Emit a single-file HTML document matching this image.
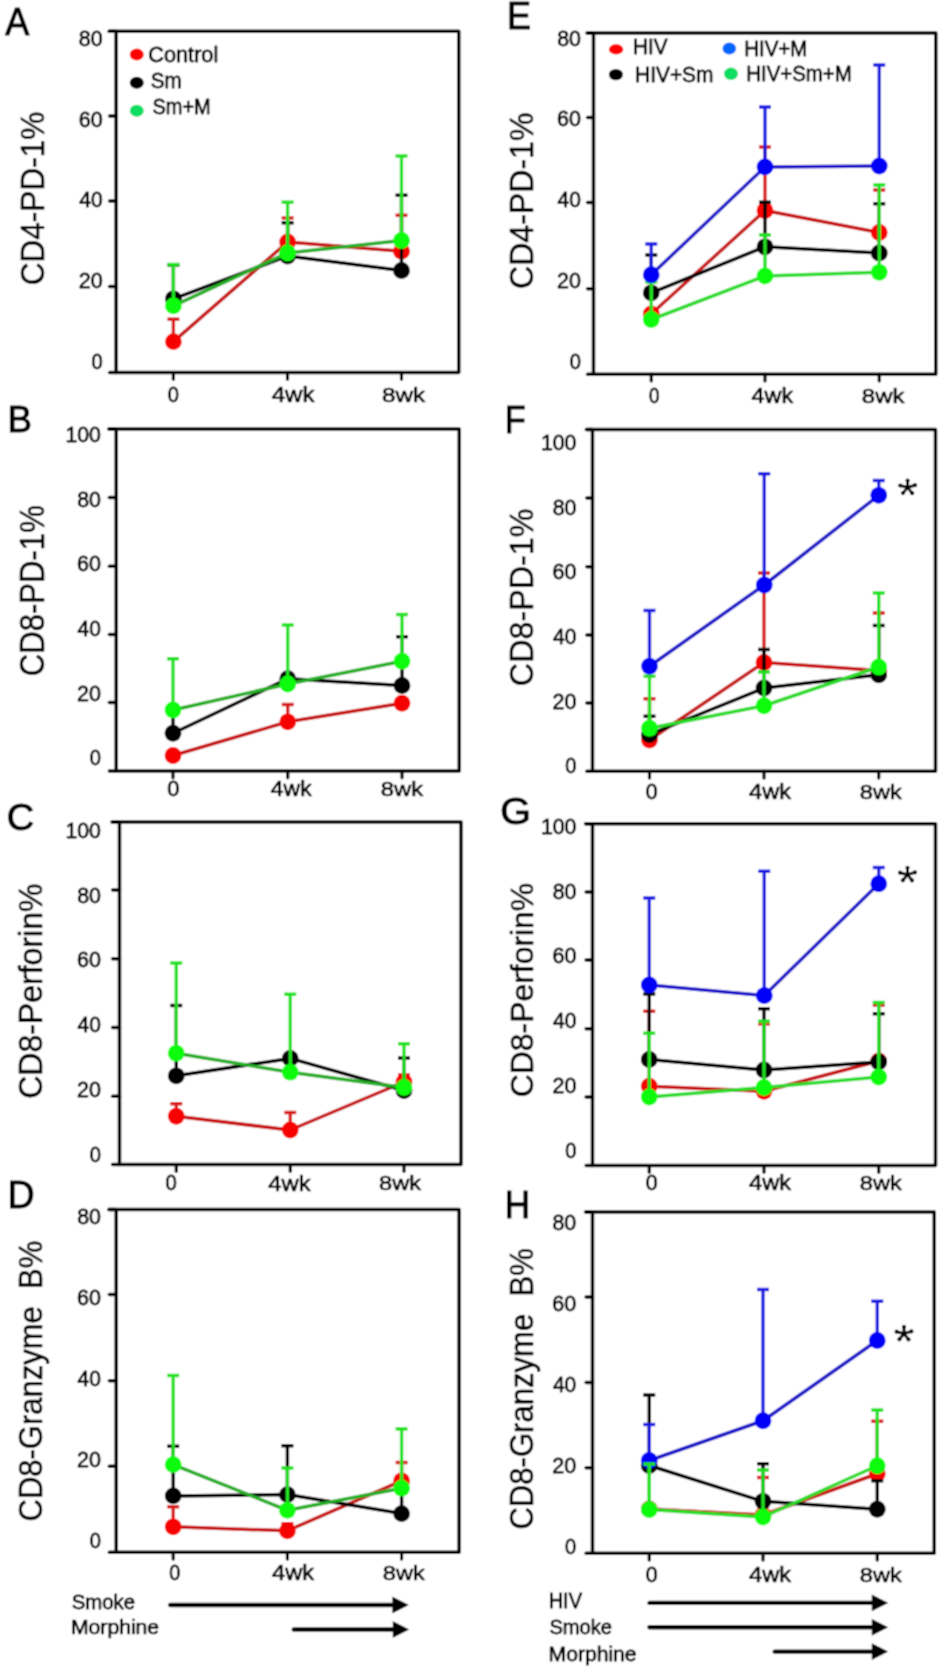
<!DOCTYPE html>
<html><head><meta charset="utf-8"><style>
html,body{margin:0;padding:0;background:#fff;overflow:hidden;}
svg{display:block;}
text{font-family:"Liberation Sans",sans-serif;}
</style></head><body>
<svg width="944" height="1668" viewBox="0 0 944 1668">
<defs><filter id="soft" x="0" y="0" width="944" height="1668" filterUnits="userSpaceOnUse"><feConvolveMatrix order="3" kernelMatrix="1 2 1 2 4 2 1 2 1" divisor="16" edgeMode="duplicate"/></filter></defs>
<g filter="url(#soft)">
<rect width="944" height="1668" fill="#fff"/>
<path d="M109.00,31.2 H458.8 V372.4 H116.1 V31.2" fill="none" stroke="#000" stroke-width="3.5" stroke-linejoin="round" stroke-linecap="round"/>
<line x1="109.6" y1="31.2" x2="116.1" y2="31.2" stroke="#000" stroke-width="3.5" stroke-linecap="round"/>
<line x1="109.6" y1="116" x2="116.1" y2="116" stroke="#000" stroke-width="3.5" stroke-linecap="round"/>
<line x1="109.6" y1="201" x2="116.1" y2="201" stroke="#000" stroke-width="3.5" stroke-linecap="round"/>
<line x1="109.6" y1="286.5" x2="116.1" y2="286.5" stroke="#000" stroke-width="3.5" stroke-linecap="round"/>
<line x1="109.6" y1="372.4" x2="116.1" y2="372.4" stroke="#000" stroke-width="3.5" stroke-linecap="round"/>
<line x1="173.4" y1="372.4" x2="173.4" y2="379.2" stroke="#000" stroke-width="3.2" stroke-linecap="round"/>
<line x1="287.5" y1="372.4" x2="287.5" y2="379.2" stroke="#000" stroke-width="3.2" stroke-linecap="round"/>
<line x1="401.5" y1="372.4" x2="401.5" y2="379.2" stroke="#000" stroke-width="3.2" stroke-linecap="round"/>
<text transform="translate(78.87,45.59) scale(1.0084,1)" font-size="21.19" fill="#000" stroke="#000" stroke-width="0.79" stroke-linejoin="round">80</text>
<text transform="translate(78.71,126.52) scale(1.0156,1)" font-size="21.19" fill="#000" stroke="#000" stroke-width="0.79" stroke-linejoin="round">60</text>
<text transform="translate(79.32,207.44) scale(0.9887,1)" font-size="21.19" fill="#000" stroke="#000" stroke-width="0.80" stroke-linejoin="round">40</text>
<text transform="translate(78.72,288.37) scale(1.0151,1)" font-size="21.19" fill="#000" stroke="#000" stroke-width="0.79" stroke-linejoin="round">20</text>
<text transform="translate(91.42,369.29) scale(0.9479,1)" font-size="21.19" fill="#000" stroke="#000" stroke-width="0.80" stroke-linejoin="round">0</text>
<text transform="translate(167.72,402.04) scale(0.9233,1)" font-size="21.75" fill="#000" stroke="#000" stroke-width="0.80" stroke-linejoin="round">0</text>
<text transform="translate(271.65,402.25) scale(1.1329,1)" font-size="21.25" fill="#000" stroke="#000" stroke-width="0.71" stroke-linejoin="round">4wk</text>
<text transform="translate(381.94,402.05) scale(1.1590,1)" font-size="20.97" fill="#000" stroke="#000" stroke-width="0.69" stroke-linejoin="round">8wk</text>
<line x1="173.4" y1="341.6" x2="173.4" y2="319.2" stroke="#d81a1a" stroke-width="3.4"/>
<line x1="167.4" y1="319.2" x2="179.4" y2="319.2" stroke="#d81a1a" stroke-width="3.5"/>
<line x1="287.6" y1="242" x2="287.6" y2="218" stroke="#d81a1a" stroke-width="3.4"/>
<line x1="281.6" y1="218" x2="293.6" y2="218" stroke="#d81a1a" stroke-width="3.5"/>
<line x1="401.5" y1="251.2" x2="401.5" y2="215.3" stroke="#d81a1a" stroke-width="3.4"/>
<line x1="395.5" y1="215.3" x2="407.5" y2="215.3" stroke="#d81a1a" stroke-width="3.5"/>
<path d="M173.4,341.6 L287.6,242 L401.5,251.2" fill="none" stroke="#c81414" stroke-width="3.5" stroke-linejoin="round"/>
<circle cx="173.4" cy="341.6" r="8.4" fill="#f60400"/>
<circle cx="287.6" cy="242" r="8.4" fill="#f60400"/>
<circle cx="401.5" cy="251.2" r="8.4" fill="#f60400"/>
<line x1="173.4" y1="298.8" x2="173.4" y2="265" stroke="#000000" stroke-width="3.4"/>
<line x1="167.4" y1="265" x2="179.4" y2="265" stroke="#000000" stroke-width="3.5"/>
<line x1="287.6" y1="256" x2="287.6" y2="222.8" stroke="#000000" stroke-width="3.4"/>
<line x1="281.6" y1="222.8" x2="293.6" y2="222.8" stroke="#000000" stroke-width="3.5"/>
<line x1="401.5" y1="270.5" x2="401.5" y2="195.2" stroke="#000000" stroke-width="3.4"/>
<line x1="395.5" y1="195.2" x2="407.5" y2="195.2" stroke="#000000" stroke-width="3.5"/>
<path d="M173.4,298.8 L287.6,256 L401.5,270.5" fill="none" stroke="#000000" stroke-width="3.5" stroke-linejoin="round"/>
<circle cx="173.4" cy="298.8" r="8.4" fill="#000000"/>
<circle cx="287.6" cy="256" r="8.4" fill="#000000"/>
<circle cx="401.5" cy="270.5" r="8.4" fill="#000000"/>
<line x1="173.4" y1="305.8" x2="173.4" y2="264.5" stroke="#22e022" stroke-width="3.4"/>
<line x1="167.4" y1="264.5" x2="179.4" y2="264.5" stroke="#22e022" stroke-width="3.5"/>
<line x1="287.6" y1="253" x2="287.6" y2="202.2" stroke="#22e022" stroke-width="3.4"/>
<line x1="281.6" y1="202.2" x2="293.6" y2="202.2" stroke="#22e022" stroke-width="3.5"/>
<line x1="401.5" y1="240.5" x2="401.5" y2="156" stroke="#22e022" stroke-width="3.4"/>
<line x1="395.5" y1="156" x2="407.5" y2="156" stroke="#22e022" stroke-width="3.5"/>
<path d="M173.4,305.8 L287.6,253 L401.5,240.5" fill="none" stroke="#26ae26" stroke-width="3.5" stroke-linejoin="round"/>
<circle cx="173.4" cy="305.8" r="8.4" fill="#08fc08"/>
<circle cx="287.6" cy="253" r="8.4" fill="#08fc08"/>
<circle cx="401.5" cy="240.5" r="8.4" fill="#08fc08"/>
<path d="M108.75,429 H459.25 V771 H116.2 V429" fill="none" stroke="#000" stroke-width="3.5" stroke-linejoin="round" stroke-linecap="round"/>
<line x1="109.35" y1="429" x2="116.2" y2="429" stroke="#000" stroke-width="3.5" stroke-linecap="round"/>
<line x1="109.35" y1="497.5" x2="116.2" y2="497.5" stroke="#000" stroke-width="3.5" stroke-linecap="round"/>
<line x1="109.35" y1="566.25" x2="116.2" y2="566.25" stroke="#000" stroke-width="3.5" stroke-linecap="round"/>
<line x1="109.35" y1="634.5" x2="116.2" y2="634.5" stroke="#000" stroke-width="3.5" stroke-linecap="round"/>
<line x1="109.35" y1="702.5" x2="116.2" y2="702.5" stroke="#000" stroke-width="3.5" stroke-linecap="round"/>
<line x1="109.35" y1="771" x2="116.2" y2="771" stroke="#000" stroke-width="3.5" stroke-linecap="round"/>
<line x1="173" y1="771" x2="173" y2="777.8" stroke="#000" stroke-width="3.2" stroke-linecap="round"/>
<line x1="287.75" y1="771" x2="287.75" y2="777.8" stroke="#000" stroke-width="3.2" stroke-linecap="round"/>
<line x1="402" y1="771" x2="402" y2="777.8" stroke="#000" stroke-width="3.2" stroke-linecap="round"/>
<text transform="translate(65.48,441.79) scale(1.0028,1)" font-size="21.19" fill="#000" stroke="#000" stroke-width="0.80" stroke-linejoin="round">100</text>
<text transform="translate(77.17,506.51) scale(1.0084,1)" font-size="21.19" fill="#000" stroke="#000" stroke-width="0.79" stroke-linejoin="round">80</text>
<text transform="translate(77.01,571.23) scale(1.0156,1)" font-size="21.19" fill="#000" stroke="#000" stroke-width="0.79" stroke-linejoin="round">60</text>
<text transform="translate(77.62,635.95) scale(0.9887,1)" font-size="21.19" fill="#000" stroke="#000" stroke-width="0.80" stroke-linejoin="round">40</text>
<text transform="translate(77.02,700.67) scale(1.0151,1)" font-size="21.19" fill="#000" stroke="#000" stroke-width="0.79" stroke-linejoin="round">20</text>
<text transform="translate(89.72,765.39) scale(0.9479,1)" font-size="21.19" fill="#000" stroke="#000" stroke-width="0.80" stroke-linejoin="round">0</text>
<text transform="translate(167.35,795.79) scale(1.0050,1)" font-size="21.75" fill="#000" stroke="#000" stroke-width="0.80" stroke-linejoin="round">0</text>
<text transform="translate(270.87,796.00) scale(1.0793,1)" font-size="21.25" fill="#000" stroke="#000" stroke-width="0.74" stroke-linejoin="round">4wk</text>
<text transform="translate(380.87,795.80) scale(1.1343,1)" font-size="20.97" fill="#000" stroke="#000" stroke-width="0.71" stroke-linejoin="round">8wk</text>
<line x1="287.75" y1="721.8" x2="287.75" y2="704.5" stroke="#d81a1a" stroke-width="3.4"/>
<line x1="281.75" y1="704.5" x2="293.75" y2="704.5" stroke="#d81a1a" stroke-width="3.5"/>
<path d="M173,755.5 L287.75,721.8 L402,703.25" fill="none" stroke="#c81414" stroke-width="3.5" stroke-linejoin="round"/>
<circle cx="173" cy="755.5" r="8.4" fill="#f60400"/>
<circle cx="287.75" cy="721.8" r="8.4" fill="#f60400"/>
<circle cx="402" cy="703.25" r="8.4" fill="#f60400"/>
<line x1="173" y1="733.25" x2="173" y2="712" stroke="#000000" stroke-width="3.4"/>
<line x1="167" y1="712" x2="179" y2="712" stroke="#000000" stroke-width="3.5"/>
<line x1="402" y1="685.5" x2="402" y2="636.75" stroke="#000000" stroke-width="3.4"/>
<line x1="396" y1="636.75" x2="408" y2="636.75" stroke="#000000" stroke-width="3.5"/>
<path d="M173,733.25 L287.75,678.75 L402,685.5" fill="none" stroke="#000000" stroke-width="3.5" stroke-linejoin="round"/>
<circle cx="173" cy="733.25" r="8.4" fill="#000000"/>
<circle cx="287.75" cy="678.75" r="8.4" fill="#000000"/>
<circle cx="402" cy="685.5" r="8.4" fill="#000000"/>
<line x1="173" y1="710" x2="173" y2="658.75" stroke="#22e022" stroke-width="3.4"/>
<line x1="167" y1="658.75" x2="179" y2="658.75" stroke="#22e022" stroke-width="3.5"/>
<line x1="287.75" y1="684" x2="287.75" y2="625" stroke="#22e022" stroke-width="3.4"/>
<line x1="281.75" y1="625" x2="293.75" y2="625" stroke="#22e022" stroke-width="3.5"/>
<line x1="402" y1="661.25" x2="402" y2="614.5" stroke="#22e022" stroke-width="3.4"/>
<line x1="396" y1="614.5" x2="408" y2="614.5" stroke="#22e022" stroke-width="3.5"/>
<path d="M173,710 L287.75,684 L402,661.25" fill="none" stroke="#26ae26" stroke-width="3.5" stroke-linejoin="round"/>
<circle cx="173" cy="710" r="8.4" fill="#08fc08"/>
<circle cx="287.75" cy="684" r="8.4" fill="#08fc08"/>
<circle cx="402" cy="661.25" r="8.4" fill="#08fc08"/>
<path d="M112.00,822 H461 V1164.5 H119.5 V822" fill="none" stroke="#000" stroke-width="3.5" stroke-linejoin="round" stroke-linecap="round"/>
<line x1="112.6" y1="822" x2="119.5" y2="822" stroke="#000" stroke-width="3.5" stroke-linecap="round"/>
<line x1="112.6" y1="890" x2="119.5" y2="890" stroke="#000" stroke-width="3.5" stroke-linecap="round"/>
<line x1="112.6" y1="958.75" x2="119.5" y2="958.75" stroke="#000" stroke-width="3.5" stroke-linecap="round"/>
<line x1="112.6" y1="1027.5" x2="119.5" y2="1027.5" stroke="#000" stroke-width="3.5" stroke-linecap="round"/>
<line x1="112.6" y1="1096.25" x2="119.5" y2="1096.25" stroke="#000" stroke-width="3.5" stroke-linecap="round"/>
<line x1="112.6" y1="1164.5" x2="119.5" y2="1164.5" stroke="#000" stroke-width="3.5" stroke-linecap="round"/>
<line x1="176.25" y1="1164.5" x2="176.25" y2="1171.3" stroke="#000" stroke-width="3.2" stroke-linecap="round"/>
<line x1="290.25" y1="1164.5" x2="290.25" y2="1171.3" stroke="#000" stroke-width="3.2" stroke-linecap="round"/>
<line x1="404" y1="1164.5" x2="404" y2="1171.3" stroke="#000" stroke-width="3.2" stroke-linecap="round"/>
<text transform="translate(65.48,838.09) scale(1.0028,1)" font-size="21.19" fill="#000" stroke="#000" stroke-width="0.80" stroke-linejoin="round">100</text>
<text transform="translate(77.17,902.79) scale(1.0084,1)" font-size="21.19" fill="#000" stroke="#000" stroke-width="0.79" stroke-linejoin="round">80</text>
<text transform="translate(77.01,967.49) scale(1.0156,1)" font-size="21.19" fill="#000" stroke="#000" stroke-width="0.79" stroke-linejoin="round">60</text>
<text transform="translate(77.62,1032.19) scale(0.9887,1)" font-size="21.19" fill="#000" stroke="#000" stroke-width="0.80" stroke-linejoin="round">40</text>
<text transform="translate(77.02,1096.89) scale(1.0151,1)" font-size="21.19" fill="#000" stroke="#000" stroke-width="0.79" stroke-linejoin="round">20</text>
<text transform="translate(89.72,1161.59) scale(0.9479,1)" font-size="21.19" fill="#000" stroke="#000" stroke-width="0.80" stroke-linejoin="round">0</text>
<text transform="translate(165.41,1190.29) scale(0.9329,1)" font-size="21.75" fill="#000" stroke="#000" stroke-width="0.80" stroke-linejoin="round">0</text>
<text transform="translate(268.35,1190.50) scale(1.1195,1)" font-size="21.25" fill="#000" stroke="#000" stroke-width="0.71" stroke-linejoin="round">4wk</text>
<text transform="translate(379.12,1190.30) scale(1.1274,1)" font-size="20.97" fill="#000" stroke="#000" stroke-width="0.71" stroke-linejoin="round">8wk</text>
<line x1="176.25" y1="1116.25" x2="176.25" y2="1103.75" stroke="#d81a1a" stroke-width="3.4"/>
<line x1="170.25" y1="1103.75" x2="182.25" y2="1103.75" stroke="#d81a1a" stroke-width="3.5"/>
<line x1="290.25" y1="1130" x2="290.25" y2="1112.5" stroke="#d81a1a" stroke-width="3.4"/>
<line x1="284.25" y1="1112.5" x2="296.25" y2="1112.5" stroke="#d81a1a" stroke-width="3.5"/>
<line x1="404" y1="1082" x2="404" y2="1075" stroke="#d81a1a" stroke-width="3.4"/>
<line x1="398" y1="1075" x2="410" y2="1075" stroke="#d81a1a" stroke-width="3.5"/>
<path d="M176.25,1116.25 L290.25,1130 L404,1082" fill="none" stroke="#c81414" stroke-width="3.5" stroke-linejoin="round"/>
<circle cx="176.25" cy="1116.25" r="8.4" fill="#f60400"/>
<circle cx="290.25" cy="1130" r="8.4" fill="#f60400"/>
<circle cx="404" cy="1082" r="8.4" fill="#f60400"/>
<line x1="176.25" y1="1075.8" x2="176.25" y2="1005.5" stroke="#000000" stroke-width="3.4"/>
<line x1="170.25" y1="1005.5" x2="182.25" y2="1005.5" stroke="#000000" stroke-width="3.5"/>
<line x1="404" y1="1090.5" x2="404" y2="1058" stroke="#000000" stroke-width="3.4"/>
<line x1="398" y1="1058" x2="410" y2="1058" stroke="#000000" stroke-width="3.5"/>
<path d="M176.25,1075.8 L290.25,1058.4 L404,1090.5" fill="none" stroke="#000000" stroke-width="3.5" stroke-linejoin="round"/>
<circle cx="176.25" cy="1075.8" r="8.4" fill="#000000"/>
<circle cx="290.25" cy="1058.4" r="8.4" fill="#000000"/>
<circle cx="404" cy="1090.5" r="8.4" fill="#000000"/>
<line x1="176.25" y1="1053.25" x2="176.25" y2="963" stroke="#22e022" stroke-width="3.4"/>
<line x1="170.25" y1="963" x2="182.25" y2="963" stroke="#22e022" stroke-width="3.5"/>
<line x1="290.25" y1="1072.2" x2="290.25" y2="994.25" stroke="#22e022" stroke-width="3.4"/>
<line x1="284.25" y1="994.25" x2="296.25" y2="994.25" stroke="#22e022" stroke-width="3.5"/>
<line x1="404" y1="1087.5" x2="404" y2="1043.75" stroke="#22e022" stroke-width="3.4"/>
<line x1="398" y1="1043.75" x2="410" y2="1043.75" stroke="#22e022" stroke-width="3.5"/>
<path d="M176.25,1053.25 L290.25,1072.2 L404,1087.5" fill="none" stroke="#26ae26" stroke-width="3.5" stroke-linejoin="round"/>
<circle cx="176.25" cy="1053.25" r="8.4" fill="#08fc08"/>
<circle cx="290.25" cy="1072.2" r="8.4" fill="#08fc08"/>
<circle cx="404" cy="1087.5" r="8.4" fill="#08fc08"/>
<path d="M108.75,1209.5 H459.1 V1552.3 H116.2 V1209.5" fill="none" stroke="#000" stroke-width="3.5" stroke-linejoin="round" stroke-linecap="round"/>
<line x1="109.35" y1="1209.5" x2="116.2" y2="1209.5" stroke="#000" stroke-width="3.5" stroke-linecap="round"/>
<line x1="109.35" y1="1294.5" x2="116.2" y2="1294.5" stroke="#000" stroke-width="3.5" stroke-linecap="round"/>
<line x1="109.35" y1="1380.75" x2="116.2" y2="1380.75" stroke="#000" stroke-width="3.5" stroke-linecap="round"/>
<line x1="109.35" y1="1466.25" x2="116.2" y2="1466.25" stroke="#000" stroke-width="3.5" stroke-linecap="round"/>
<line x1="109.35" y1="1552.3" x2="116.2" y2="1552.3" stroke="#000" stroke-width="3.5" stroke-linecap="round"/>
<line x1="173.2" y1="1552.3" x2="173.2" y2="1559.1" stroke="#000" stroke-width="3.2" stroke-linecap="round"/>
<line x1="287.4" y1="1552.3" x2="287.4" y2="1559.1" stroke="#000" stroke-width="3.2" stroke-linecap="round"/>
<line x1="401.6" y1="1552.3" x2="401.6" y2="1559.1" stroke="#000" stroke-width="3.2" stroke-linecap="round"/>
<text transform="translate(77.17,1224.29) scale(1.0084,1)" font-size="21.19" fill="#000" stroke="#000" stroke-width="0.79" stroke-linejoin="round">80</text>
<text transform="translate(77.01,1305.19) scale(1.0156,1)" font-size="21.19" fill="#000" stroke="#000" stroke-width="0.79" stroke-linejoin="round">60</text>
<text transform="translate(77.62,1386.09) scale(0.9887,1)" font-size="21.19" fill="#000" stroke="#000" stroke-width="0.80" stroke-linejoin="round">40</text>
<text transform="translate(77.02,1466.99) scale(1.0151,1)" font-size="21.19" fill="#000" stroke="#000" stroke-width="0.79" stroke-linejoin="round">20</text>
<text transform="translate(89.72,1547.89) scale(0.9479,1)" font-size="21.19" fill="#000" stroke="#000" stroke-width="0.80" stroke-linejoin="round">0</text>
<text transform="translate(169.18,1580.04) scale(0.9089,1)" font-size="21.75" fill="#000" stroke="#000" stroke-width="0.80" stroke-linejoin="round">0</text>
<text transform="translate(272.11,1580.25) scale(1.1128,1)" font-size="21.25" fill="#000" stroke="#000" stroke-width="0.72" stroke-linejoin="round">4wk</text>
<text transform="translate(382.87,1580.05) scale(1.1274,1)" font-size="20.97" fill="#000" stroke="#000" stroke-width="0.71" stroke-linejoin="round">8wk</text>
<line x1="173.2" y1="1526.8" x2="173.2" y2="1506.75" stroke="#d81a1a" stroke-width="3.4"/>
<line x1="167.2" y1="1506.75" x2="179.2" y2="1506.75" stroke="#d81a1a" stroke-width="3.5"/>
<line x1="287.4" y1="1530.75" x2="287.4" y2="1523.75" stroke="#d81a1a" stroke-width="3.4"/>
<line x1="281.4" y1="1523.75" x2="293.4" y2="1523.75" stroke="#d81a1a" stroke-width="3.5"/>
<line x1="401.6" y1="1480.8" x2="401.6" y2="1462.5" stroke="#d81a1a" stroke-width="3.4"/>
<line x1="395.6" y1="1462.5" x2="407.6" y2="1462.5" stroke="#d81a1a" stroke-width="3.5"/>
<path d="M173.2,1526.8 L287.4,1530.75 L401.6,1480.8" fill="none" stroke="#c81414" stroke-width="3.5" stroke-linejoin="round"/>
<circle cx="173.2" cy="1526.8" r="8.4" fill="#f60400"/>
<circle cx="287.4" cy="1530.75" r="8.4" fill="#f60400"/>
<circle cx="401.6" cy="1480.8" r="8.4" fill="#f60400"/>
<line x1="173.2" y1="1495.9" x2="173.2" y2="1446.25" stroke="#000000" stroke-width="3.4"/>
<line x1="167.2" y1="1446.25" x2="179.2" y2="1446.25" stroke="#000000" stroke-width="3.5"/>
<line x1="287.4" y1="1494.6" x2="287.4" y2="1445.75" stroke="#000000" stroke-width="3.4"/>
<line x1="281.4" y1="1445.75" x2="293.4" y2="1445.75" stroke="#000000" stroke-width="3.5"/>
<line x1="401.6" y1="1513.6" x2="401.6" y2="1490" stroke="#000000" stroke-width="3.4"/>
<line x1="395.6" y1="1490" x2="407.6" y2="1490" stroke="#000000" stroke-width="3.5"/>
<path d="M173.2,1495.9 L287.4,1494.6 L401.6,1513.6" fill="none" stroke="#000000" stroke-width="3.5" stroke-linejoin="round"/>
<circle cx="173.2" cy="1495.9" r="8.4" fill="#000000"/>
<circle cx="287.4" cy="1494.6" r="8.4" fill="#000000"/>
<circle cx="401.6" cy="1513.6" r="8.4" fill="#000000"/>
<line x1="173.2" y1="1464.6" x2="173.2" y2="1375.5" stroke="#22e022" stroke-width="3.4"/>
<line x1="167.2" y1="1375.5" x2="179.2" y2="1375.5" stroke="#22e022" stroke-width="3.5"/>
<line x1="287.4" y1="1510.3" x2="287.4" y2="1468" stroke="#22e022" stroke-width="3.4"/>
<line x1="281.4" y1="1468" x2="293.4" y2="1468" stroke="#22e022" stroke-width="3.5"/>
<line x1="401.6" y1="1488.2" x2="401.6" y2="1428.9" stroke="#22e022" stroke-width="3.4"/>
<line x1="395.6" y1="1428.9" x2="407.6" y2="1428.9" stroke="#22e022" stroke-width="3.5"/>
<path d="M173.2,1464.6 L287.4,1510.3 L401.6,1488.2" fill="none" stroke="#26ae26" stroke-width="3.5" stroke-linejoin="round"/>
<circle cx="173.2" cy="1464.6" r="8.4" fill="#08fc08"/>
<circle cx="287.4" cy="1510.3" r="8.4" fill="#08fc08"/>
<circle cx="401.6" cy="1488.2" r="8.4" fill="#08fc08"/>
<path d="M587.00,33 H935.8 V374.2 H593.5 V33" fill="none" stroke="#000" stroke-width="3.5" stroke-linejoin="round" stroke-linecap="round"/>
<line x1="587.6" y1="33" x2="593.5" y2="33" stroke="#000" stroke-width="3.5" stroke-linecap="round"/>
<line x1="587.6" y1="117.5" x2="593.5" y2="117.5" stroke="#000" stroke-width="3.5" stroke-linecap="round"/>
<line x1="587.6" y1="202.5" x2="593.5" y2="202.5" stroke="#000" stroke-width="3.5" stroke-linecap="round"/>
<line x1="587.6" y1="288.75" x2="593.5" y2="288.75" stroke="#000" stroke-width="3.5" stroke-linecap="round"/>
<line x1="587.6" y1="374.2" x2="593.5" y2="374.2" stroke="#000" stroke-width="3.5" stroke-linecap="round"/>
<line x1="651.25" y1="374.2" x2="651.25" y2="381.0" stroke="#000" stroke-width="3.2" stroke-linecap="round"/>
<line x1="765" y1="374.2" x2="765" y2="381.0" stroke="#000" stroke-width="3.2" stroke-linecap="round"/>
<line x1="879.25" y1="374.2" x2="879.25" y2="381.0" stroke="#000" stroke-width="3.2" stroke-linecap="round"/>
<text transform="translate(557.17,45.59) scale(1.0084,1)" font-size="21.19" fill="#000" stroke="#000" stroke-width="0.79" stroke-linejoin="round">80</text>
<text transform="translate(557.01,126.47) scale(1.0156,1)" font-size="21.19" fill="#000" stroke="#000" stroke-width="0.79" stroke-linejoin="round">60</text>
<text transform="translate(557.62,207.34) scale(0.9887,1)" font-size="21.19" fill="#000" stroke="#000" stroke-width="0.80" stroke-linejoin="round">40</text>
<text transform="translate(557.02,288.22) scale(1.0151,1)" font-size="21.19" fill="#000" stroke="#000" stroke-width="0.79" stroke-linejoin="round">20</text>
<text transform="translate(569.72,369.09) scale(0.9479,1)" font-size="21.19" fill="#000" stroke="#000" stroke-width="0.80" stroke-linejoin="round">0</text>
<text transform="translate(648.96,402.79) scale(0.8656,1)" font-size="21.75" fill="#000" stroke="#000" stroke-width="0.80" stroke-linejoin="round">0</text>
<text transform="translate(751.61,403.00) scale(1.0994,1)" font-size="21.25" fill="#000" stroke="#000" stroke-width="0.73" stroke-linejoin="round">4wk</text>
<text transform="translate(861.86,402.80) scale(1.1411,1)" font-size="20.97" fill="#000" stroke="#000" stroke-width="0.70" stroke-linejoin="round">8wk</text>
<line x1="765" y1="210.5" x2="765" y2="147" stroke="#d81a1a" stroke-width="3.4"/>
<line x1="759" y1="147" x2="771" y2="147" stroke="#d81a1a" stroke-width="3.5"/>
<line x1="879.25" y1="232.5" x2="879.25" y2="190" stroke="#d81a1a" stroke-width="3.4"/>
<line x1="873.25" y1="190" x2="885.25" y2="190" stroke="#d81a1a" stroke-width="3.5"/>
<path d="M651.25,314 L765,210.5 L879.25,232.5" fill="none" stroke="#c81414" stroke-width="3.5" stroke-linejoin="round"/>
<circle cx="651.25" cy="314" r="8.4" fill="#f60400"/>
<circle cx="765" cy="210.5" r="8.4" fill="#f60400"/>
<circle cx="879.25" cy="232.5" r="8.4" fill="#f60400"/>
<line x1="651.25" y1="292.8" x2="651.25" y2="255" stroke="#000000" stroke-width="3.4"/>
<line x1="645.25" y1="255" x2="657.25" y2="255" stroke="#000000" stroke-width="3.5"/>
<line x1="765" y1="246.8" x2="765" y2="202.2" stroke="#000000" stroke-width="3.4"/>
<line x1="759" y1="202.2" x2="771" y2="202.2" stroke="#000000" stroke-width="3.5"/>
<line x1="879.25" y1="253" x2="879.25" y2="203.75" stroke="#000000" stroke-width="3.4"/>
<line x1="873.25" y1="203.75" x2="885.25" y2="203.75" stroke="#000000" stroke-width="3.5"/>
<path d="M651.25,292.8 L765,246.8 L879.25,253" fill="none" stroke="#000000" stroke-width="3.5" stroke-linejoin="round"/>
<circle cx="651.25" cy="292.8" r="8.4" fill="#000000"/>
<circle cx="765" cy="246.8" r="8.4" fill="#000000"/>
<circle cx="879.25" cy="253" r="8.4" fill="#000000"/>
<line x1="651.25" y1="319.5" x2="651.25" y2="282" stroke="#22e022" stroke-width="3.4"/>
<line x1="645.25" y1="282" x2="657.25" y2="282" stroke="#22e022" stroke-width="3.5"/>
<line x1="765" y1="275.9" x2="765" y2="235" stroke="#22e022" stroke-width="3.4"/>
<line x1="759" y1="235" x2="771" y2="235" stroke="#22e022" stroke-width="3.5"/>
<line x1="879.25" y1="272.3" x2="879.25" y2="185" stroke="#22e022" stroke-width="3.4"/>
<line x1="873.25" y1="185" x2="885.25" y2="185" stroke="#22e022" stroke-width="3.5"/>
<path d="M651.25,319.5 L765,275.9 L879.25,272.3" fill="none" stroke="#2cdc2c" stroke-width="3.5" stroke-linejoin="round"/>
<circle cx="651.25" cy="319.5" r="8.4" fill="#08fc08"/>
<circle cx="765" cy="275.9" r="8.4" fill="#08fc08"/>
<circle cx="879.25" cy="272.3" r="8.4" fill="#08fc08"/>
<line x1="651.25" y1="274.75" x2="651.25" y2="244" stroke="#1e1ee0" stroke-width="3.4"/>
<line x1="645.25" y1="244" x2="657.25" y2="244" stroke="#1e1ee0" stroke-width="3.5"/>
<line x1="765" y1="166.9" x2="765" y2="107" stroke="#1e1ee0" stroke-width="3.4"/>
<line x1="759" y1="107" x2="771" y2="107" stroke="#1e1ee0" stroke-width="3.5"/>
<line x1="879.25" y1="166" x2="879.25" y2="65" stroke="#1e1ee0" stroke-width="3.4"/>
<line x1="873.25" y1="65" x2="885.25" y2="65" stroke="#1e1ee0" stroke-width="3.5"/>
<path d="M651.25,274.75 L765,166.9 L879.25,166" fill="none" stroke="#1c18c8" stroke-width="3.5" stroke-linejoin="round"/>
<circle cx="651.25" cy="274.75" r="8.4" fill="#0000f6"/>
<circle cx="765" cy="166.9" r="8.4" fill="#0000f6"/>
<circle cx="879.25" cy="166" r="8.4" fill="#0000f6"/>
<path d="M586.25,429.5 H935.5 V771.3 H592.5 V429.5" fill="none" stroke="#000" stroke-width="3.5" stroke-linejoin="round" stroke-linecap="round"/>
<line x1="586.85" y1="429.5" x2="592.5" y2="429.5" stroke="#000" stroke-width="3.5" stroke-linecap="round"/>
<line x1="586.85" y1="498" x2="592.5" y2="498" stroke="#000" stroke-width="3.5" stroke-linecap="round"/>
<line x1="586.85" y1="566.75" x2="592.5" y2="566.75" stroke="#000" stroke-width="3.5" stroke-linecap="round"/>
<line x1="586.85" y1="635" x2="592.5" y2="635" stroke="#000" stroke-width="3.5" stroke-linecap="round"/>
<line x1="586.85" y1="703" x2="592.5" y2="703" stroke="#000" stroke-width="3.5" stroke-linecap="round"/>
<line x1="586.85" y1="771.3" x2="592.5" y2="771.3" stroke="#000" stroke-width="3.5" stroke-linecap="round"/>
<line x1="649.5" y1="771.3" x2="649.5" y2="778.0999999999999" stroke="#000" stroke-width="3.2" stroke-linecap="round"/>
<line x1="764" y1="771.3" x2="764" y2="778.0999999999999" stroke="#000" stroke-width="3.2" stroke-linecap="round"/>
<line x1="878.75" y1="771.3" x2="878.75" y2="778.0999999999999" stroke="#000" stroke-width="3.2" stroke-linecap="round"/>
<text transform="translate(540.98,449.89) scale(1.0028,1)" font-size="21.19" fill="#000" stroke="#000" stroke-width="0.80" stroke-linejoin="round">100</text>
<text transform="translate(552.67,514.59) scale(1.0084,1)" font-size="21.19" fill="#000" stroke="#000" stroke-width="0.79" stroke-linejoin="round">80</text>
<text transform="translate(552.51,579.29) scale(1.0156,1)" font-size="21.19" fill="#000" stroke="#000" stroke-width="0.79" stroke-linejoin="round">60</text>
<text transform="translate(553.12,643.99) scale(0.9887,1)" font-size="21.19" fill="#000" stroke="#000" stroke-width="0.80" stroke-linejoin="round">40</text>
<text transform="translate(552.52,708.69) scale(1.0151,1)" font-size="21.19" fill="#000" stroke="#000" stroke-width="0.79" stroke-linejoin="round">20</text>
<text transform="translate(565.22,773.39) scale(0.9479,1)" font-size="21.19" fill="#000" stroke="#000" stroke-width="0.80" stroke-linejoin="round">0</text>
<text transform="translate(645.87,799.04) scale(0.9810,1)" font-size="21.75" fill="#000" stroke="#000" stroke-width="0.80" stroke-linejoin="round">0</text>
<text transform="translate(749.11,799.25) scale(1.1128,1)" font-size="21.25" fill="#000" stroke="#000" stroke-width="0.72" stroke-linejoin="round">4wk</text>
<text transform="translate(859.87,799.05) scale(1.1274,1)" font-size="20.97" fill="#000" stroke="#000" stroke-width="0.71" stroke-linejoin="round">8wk</text>
<line x1="649.5" y1="740" x2="649.5" y2="698.75" stroke="#d81a1a" stroke-width="3.4"/>
<line x1="643.5" y1="698.75" x2="655.5" y2="698.75" stroke="#d81a1a" stroke-width="3.5"/>
<line x1="764" y1="662.5" x2="764" y2="573" stroke="#d81a1a" stroke-width="3.4"/>
<line x1="758" y1="573" x2="770" y2="573" stroke="#d81a1a" stroke-width="3.5"/>
<line x1="878.75" y1="670.5" x2="878.75" y2="613" stroke="#d81a1a" stroke-width="3.4"/>
<line x1="872.75" y1="613" x2="884.75" y2="613" stroke="#d81a1a" stroke-width="3.5"/>
<path d="M649.5,740 L764,662.5 L878.75,670.5" fill="none" stroke="#c81414" stroke-width="3.5" stroke-linejoin="round"/>
<circle cx="649.5" cy="740" r="8.4" fill="#f60400"/>
<circle cx="764" cy="662.5" r="8.4" fill="#f60400"/>
<circle cx="878.75" cy="670.5" r="8.4" fill="#f60400"/>
<line x1="649.5" y1="734.5" x2="649.5" y2="716.25" stroke="#000000" stroke-width="3.4"/>
<line x1="643.5" y1="716.25" x2="655.5" y2="716.25" stroke="#000000" stroke-width="3.5"/>
<line x1="764" y1="688" x2="764" y2="649.5" stroke="#000000" stroke-width="3.4"/>
<line x1="758" y1="649.5" x2="770" y2="649.5" stroke="#000000" stroke-width="3.5"/>
<line x1="878.75" y1="674.8" x2="878.75" y2="625.5" stroke="#000000" stroke-width="3.4"/>
<line x1="872.75" y1="625.5" x2="884.75" y2="625.5" stroke="#000000" stroke-width="3.5"/>
<path d="M649.5,734.5 L764,688 L878.75,674.8" fill="none" stroke="#000000" stroke-width="3.5" stroke-linejoin="round"/>
<circle cx="649.5" cy="734.5" r="8.4" fill="#000000"/>
<circle cx="764" cy="688" r="8.4" fill="#000000"/>
<circle cx="878.75" cy="674.8" r="8.4" fill="#000000"/>
<line x1="649.5" y1="728.25" x2="649.5" y2="676.25" stroke="#22e022" stroke-width="3.4"/>
<line x1="643.5" y1="676.25" x2="655.5" y2="676.25" stroke="#22e022" stroke-width="3.5"/>
<line x1="764" y1="705.75" x2="764" y2="672" stroke="#22e022" stroke-width="3.4"/>
<line x1="758" y1="672" x2="770" y2="672" stroke="#22e022" stroke-width="3.5"/>
<line x1="878.75" y1="667" x2="878.75" y2="593" stroke="#22e022" stroke-width="3.4"/>
<line x1="872.75" y1="593" x2="884.75" y2="593" stroke="#22e022" stroke-width="3.5"/>
<path d="M649.5,728.25 L764,705.75 L878.75,667" fill="none" stroke="#2cdc2c" stroke-width="3.5" stroke-linejoin="round"/>
<circle cx="649.5" cy="728.25" r="8.4" fill="#08fc08"/>
<circle cx="764" cy="705.75" r="8.4" fill="#08fc08"/>
<circle cx="878.75" cy="667" r="8.4" fill="#08fc08"/>
<line x1="649.5" y1="666.25" x2="649.5" y2="610.5" stroke="#1e1ee0" stroke-width="3.4"/>
<line x1="643.5" y1="610.5" x2="655.5" y2="610.5" stroke="#1e1ee0" stroke-width="3.5"/>
<line x1="764.25" y1="585" x2="764.25" y2="473.75" stroke="#1e1ee0" stroke-width="3.4"/>
<line x1="758.25" y1="473.75" x2="770.25" y2="473.75" stroke="#1e1ee0" stroke-width="3.5"/>
<line x1="878.75" y1="495.3" x2="878.75" y2="480.5" stroke="#1e1ee0" stroke-width="3.4"/>
<line x1="872.75" y1="480.5" x2="884.75" y2="480.5" stroke="#1e1ee0" stroke-width="3.5"/>
<path d="M649.5,666.25 L764.25,585 L878.75,495.3" fill="none" stroke="#1c18c8" stroke-width="3.5" stroke-linejoin="round"/>
<circle cx="649.5" cy="666.25" r="8.4" fill="#0000f6"/>
<circle cx="764.25" cy="585" r="8.4" fill="#0000f6"/>
<circle cx="878.75" cy="495.3" r="8.4" fill="#0000f6"/>
<path d="M907.6,487.4 l0,-6.8 M907.6,487.4 l7.4,-2.2 M907.6,487.4 l4.5,5.8 M907.6,487.4 l-4.6,5.7 M907.6,487.4 l-7.4,-1.9" stroke="#000" stroke-width="3.0" stroke-linecap="round" fill="none"/>
<circle cx="907.60" cy="480.60" r="2.1" fill="#000"/>
<circle cx="915.00" cy="485.20" r="2.1" fill="#000"/>
<circle cx="912.10" cy="493.20" r="2.1" fill="#000"/>
<circle cx="903.00" cy="493.10" r="2.1" fill="#000"/>
<circle cx="900.20" cy="485.50" r="2.1" fill="#000"/>
<path d="M585.50,823.75 H935.5 V1165.5 H592.5 V823.75" fill="none" stroke="#000" stroke-width="3.5" stroke-linejoin="round" stroke-linecap="round"/>
<line x1="586.1" y1="823.75" x2="592.5" y2="823.75" stroke="#000" stroke-width="3.5" stroke-linecap="round"/>
<line x1="586.1" y1="892" x2="592.5" y2="892" stroke="#000" stroke-width="3.5" stroke-linecap="round"/>
<line x1="586.1" y1="960" x2="592.5" y2="960" stroke="#000" stroke-width="3.5" stroke-linecap="round"/>
<line x1="586.1" y1="1028.75" x2="592.5" y2="1028.75" stroke="#000" stroke-width="3.5" stroke-linecap="round"/>
<line x1="586.1" y1="1097" x2="592.5" y2="1097" stroke="#000" stroke-width="3.5" stroke-linecap="round"/>
<line x1="586.1" y1="1165.5" x2="592.5" y2="1165.5" stroke="#000" stroke-width="3.5" stroke-linecap="round"/>
<line x1="649.25" y1="1165.5" x2="649.25" y2="1172.3" stroke="#000" stroke-width="3.2" stroke-linecap="round"/>
<line x1="764" y1="1165.5" x2="764" y2="1172.3" stroke="#000" stroke-width="3.2" stroke-linecap="round"/>
<line x1="878.75" y1="1165.5" x2="878.75" y2="1172.3" stroke="#000" stroke-width="3.2" stroke-linecap="round"/>
<text transform="translate(540.98,833.99) scale(1.0028,1)" font-size="21.19" fill="#000" stroke="#000" stroke-width="0.80" stroke-linejoin="round">100</text>
<text transform="translate(552.67,898.71) scale(1.0084,1)" font-size="21.19" fill="#000" stroke="#000" stroke-width="0.79" stroke-linejoin="round">80</text>
<text transform="translate(552.51,963.43) scale(1.0156,1)" font-size="21.19" fill="#000" stroke="#000" stroke-width="0.79" stroke-linejoin="round">60</text>
<text transform="translate(553.12,1028.15) scale(0.9887,1)" font-size="21.19" fill="#000" stroke="#000" stroke-width="0.80" stroke-linejoin="round">40</text>
<text transform="translate(552.52,1092.87) scale(1.0151,1)" font-size="21.19" fill="#000" stroke="#000" stroke-width="0.79" stroke-linejoin="round">20</text>
<text transform="translate(565.22,1157.59) scale(0.9479,1)" font-size="21.19" fill="#000" stroke="#000" stroke-width="0.80" stroke-linejoin="round">0</text>
<text transform="translate(645.87,1190.04) scale(0.9810,1)" font-size="21.75" fill="#000" stroke="#000" stroke-width="0.80" stroke-linejoin="round">0</text>
<text transform="translate(749.11,1190.25) scale(1.1128,1)" font-size="21.25" fill="#000" stroke="#000" stroke-width="0.72" stroke-linejoin="round">4wk</text>
<text transform="translate(859.87,1190.05) scale(1.1274,1)" font-size="20.97" fill="#000" stroke="#000" stroke-width="0.71" stroke-linejoin="round">8wk</text>
<line x1="649.25" y1="1086.25" x2="649.25" y2="1011.25" stroke="#d81a1a" stroke-width="3.4"/>
<line x1="643.25" y1="1011.25" x2="655.25" y2="1011.25" stroke="#d81a1a" stroke-width="3.5"/>
<line x1="764" y1="1091.25" x2="764" y2="1023.75" stroke="#d81a1a" stroke-width="3.4"/>
<line x1="758" y1="1023.75" x2="770" y2="1023.75" stroke="#d81a1a" stroke-width="3.5"/>
<line x1="878.75" y1="1061" x2="878.75" y2="1005" stroke="#d81a1a" stroke-width="3.4"/>
<line x1="872.75" y1="1005" x2="884.75" y2="1005" stroke="#d81a1a" stroke-width="3.5"/>
<path d="M649.25,1086.25 L764,1091.25 L878.75,1061" fill="none" stroke="#c81414" stroke-width="3.5" stroke-linejoin="round"/>
<circle cx="649.25" cy="1086.25" r="8.4" fill="#f60400"/>
<circle cx="764" cy="1091.25" r="8.4" fill="#f60400"/>
<circle cx="878.75" cy="1061" r="8.4" fill="#f60400"/>
<line x1="649.25" y1="1059.5" x2="649.25" y2="994" stroke="#000000" stroke-width="3.4"/>
<line x1="643.25" y1="994" x2="655.25" y2="994" stroke="#000000" stroke-width="3.5"/>
<line x1="764" y1="1070" x2="764" y2="1008.75" stroke="#000000" stroke-width="3.4"/>
<line x1="758" y1="1008.75" x2="770" y2="1008.75" stroke="#000000" stroke-width="3.5"/>
<line x1="878.75" y1="1062" x2="878.75" y2="1013.75" stroke="#000000" stroke-width="3.4"/>
<line x1="872.75" y1="1013.75" x2="884.75" y2="1013.75" stroke="#000000" stroke-width="3.5"/>
<path d="M649.25,1059.5 L764,1070 L878.75,1062" fill="none" stroke="#000000" stroke-width="3.5" stroke-linejoin="round"/>
<circle cx="649.25" cy="1059.5" r="8.4" fill="#000000"/>
<circle cx="764" cy="1070" r="8.4" fill="#000000"/>
<circle cx="878.75" cy="1062" r="8.4" fill="#000000"/>
<line x1="649.25" y1="1097" x2="649.25" y2="1033.25" stroke="#22e022" stroke-width="3.4"/>
<line x1="643.25" y1="1033.25" x2="655.25" y2="1033.25" stroke="#22e022" stroke-width="3.5"/>
<line x1="764" y1="1087.5" x2="764" y2="1021.25" stroke="#22e022" stroke-width="3.4"/>
<line x1="758" y1="1021.25" x2="770" y2="1021.25" stroke="#22e022" stroke-width="3.5"/>
<line x1="878.75" y1="1077" x2="878.75" y2="1002.5" stroke="#22e022" stroke-width="3.4"/>
<line x1="872.75" y1="1002.5" x2="884.75" y2="1002.5" stroke="#22e022" stroke-width="3.5"/>
<path d="M649.25,1097 L764,1087.5 L878.75,1077" fill="none" stroke="#2cdc2c" stroke-width="3.5" stroke-linejoin="round"/>
<circle cx="649.25" cy="1097" r="8.4" fill="#08fc08"/>
<circle cx="764" cy="1087.5" r="8.4" fill="#08fc08"/>
<circle cx="878.75" cy="1077" r="8.4" fill="#08fc08"/>
<line x1="649.25" y1="985" x2="649.25" y2="898" stroke="#1e1ee0" stroke-width="3.4"/>
<line x1="643.25" y1="898" x2="655.25" y2="898" stroke="#1e1ee0" stroke-width="3.5"/>
<line x1="764.25" y1="995.5" x2="764.25" y2="871.25" stroke="#1e1ee0" stroke-width="3.4"/>
<line x1="758.25" y1="871.25" x2="770.25" y2="871.25" stroke="#1e1ee0" stroke-width="3.5"/>
<line x1="878.75" y1="883.75" x2="878.75" y2="867.5" stroke="#1e1ee0" stroke-width="3.4"/>
<line x1="872.75" y1="867.5" x2="884.75" y2="867.5" stroke="#1e1ee0" stroke-width="3.5"/>
<path d="M649.25,985 L764.25,995.5 L878.75,883.75" fill="none" stroke="#1c18c8" stroke-width="3.5" stroke-linejoin="round"/>
<circle cx="649.25" cy="985" r="8.4" fill="#0000f6"/>
<circle cx="764.25" cy="995.5" r="8.4" fill="#0000f6"/>
<circle cx="878.75" cy="883.75" r="8.4" fill="#0000f6"/>
<path d="M907.5,874.6 l0,-6.8 M907.5,874.6 l7.4,-2.2 M907.5,874.6 l4.5,5.8 M907.5,874.6 l-4.6,5.7 M907.5,874.6 l-7.4,-1.9" stroke="#000" stroke-width="3.0" stroke-linecap="round" fill="none"/>
<circle cx="907.50" cy="867.80" r="2.1" fill="#000"/>
<circle cx="914.90" cy="872.40" r="2.1" fill="#000"/>
<circle cx="912.00" cy="880.40" r="2.1" fill="#000"/>
<circle cx="902.90" cy="880.30" r="2.1" fill="#000"/>
<circle cx="900.10" cy="872.70" r="2.1" fill="#000"/>
<path d="M585.50,1212 H934.25 V1553.3 H592.5 V1212" fill="none" stroke="#000" stroke-width="3.5" stroke-linejoin="round" stroke-linecap="round"/>
<line x1="586.1" y1="1212" x2="592.5" y2="1212" stroke="#000" stroke-width="3.5" stroke-linecap="round"/>
<line x1="586.1" y1="1297" x2="592.5" y2="1297" stroke="#000" stroke-width="3.5" stroke-linecap="round"/>
<line x1="586.1" y1="1382.5" x2="592.5" y2="1382.5" stroke="#000" stroke-width="3.5" stroke-linecap="round"/>
<line x1="586.1" y1="1467.8" x2="592.5" y2="1467.8" stroke="#000" stroke-width="3.5" stroke-linecap="round"/>
<line x1="586.1" y1="1553.3" x2="592.5" y2="1553.3" stroke="#000" stroke-width="3.5" stroke-linecap="round"/>
<line x1="649.25" y1="1553.3" x2="649.25" y2="1560.1" stroke="#000" stroke-width="3.2" stroke-linecap="round"/>
<line x1="763" y1="1553.3" x2="763" y2="1560.1" stroke="#000" stroke-width="3.2" stroke-linecap="round"/>
<line x1="877.25" y1="1553.3" x2="877.25" y2="1560.1" stroke="#000" stroke-width="3.2" stroke-linecap="round"/>
<text transform="translate(552.47,1230.29) scale(1.0084,1)" font-size="21.19" fill="#000" stroke="#000" stroke-width="0.79" stroke-linejoin="round">80</text>
<text transform="translate(552.31,1311.14) scale(1.0156,1)" font-size="21.19" fill="#000" stroke="#000" stroke-width="0.79" stroke-linejoin="round">60</text>
<text transform="translate(552.92,1391.99) scale(0.9887,1)" font-size="21.19" fill="#000" stroke="#000" stroke-width="0.80" stroke-linejoin="round">40</text>
<text transform="translate(552.32,1472.84) scale(1.0151,1)" font-size="21.19" fill="#000" stroke="#000" stroke-width="0.79" stroke-linejoin="round">20</text>
<text transform="translate(565.02,1553.69) scale(0.9479,1)" font-size="21.19" fill="#000" stroke="#000" stroke-width="0.80" stroke-linejoin="round">0</text>
<text transform="translate(645.87,1582.04) scale(0.9810,1)" font-size="21.75" fill="#000" stroke="#000" stroke-width="0.80" stroke-linejoin="round">0</text>
<text transform="translate(749.11,1582.25) scale(1.1128,1)" font-size="21.25" fill="#000" stroke="#000" stroke-width="0.72" stroke-linejoin="round">4wk</text>
<text transform="translate(859.87,1582.05) scale(1.1274,1)" font-size="20.97" fill="#000" stroke="#000" stroke-width="0.71" stroke-linejoin="round">8wk</text>
<line x1="763" y1="1515" x2="763" y2="1477.5" stroke="#d81a1a" stroke-width="3.4"/>
<line x1="757" y1="1477.5" x2="769" y2="1477.5" stroke="#d81a1a" stroke-width="3.5"/>
<line x1="877.25" y1="1473.75" x2="877.25" y2="1421.25" stroke="#d81a1a" stroke-width="3.4"/>
<line x1="871.25" y1="1421.25" x2="883.25" y2="1421.25" stroke="#d81a1a" stroke-width="3.5"/>
<path d="M649.25,1509 L763,1515 L877.25,1473.75" fill="none" stroke="#c81414" stroke-width="3.5" stroke-linejoin="round"/>
<circle cx="649.25" cy="1509" r="8.4" fill="#f60400"/>
<circle cx="763" cy="1515" r="8.4" fill="#f60400"/>
<circle cx="877.25" cy="1473.75" r="8.4" fill="#f60400"/>
<line x1="649.25" y1="1465.5" x2="649.25" y2="1395" stroke="#000000" stroke-width="3.4"/>
<line x1="643.25" y1="1395" x2="655.25" y2="1395" stroke="#000000" stroke-width="3.5"/>
<line x1="763" y1="1501.3" x2="763" y2="1463.75" stroke="#000000" stroke-width="3.4"/>
<line x1="757" y1="1463.75" x2="769" y2="1463.75" stroke="#000000" stroke-width="3.5"/>
<line x1="877.25" y1="1509.25" x2="877.25" y2="1480.8" stroke="#000000" stroke-width="3.4"/>
<line x1="871.25" y1="1480.8" x2="883.25" y2="1480.8" stroke="#000000" stroke-width="3.5"/>
<path d="M649.25,1465.5 L763,1501.3 L877.25,1509.25" fill="none" stroke="#000000" stroke-width="3.5" stroke-linejoin="round"/>
<circle cx="649.25" cy="1465.5" r="8.4" fill="#000000"/>
<circle cx="763" cy="1501.3" r="8.4" fill="#000000"/>
<circle cx="877.25" cy="1509.25" r="8.4" fill="#000000"/>
<line x1="649.25" y1="1509.5" x2="649.25" y2="1464" stroke="#22e022" stroke-width="3.4"/>
<line x1="643.25" y1="1464" x2="655.25" y2="1464" stroke="#22e022" stroke-width="3.5"/>
<line x1="763" y1="1517" x2="763" y2="1470" stroke="#22e022" stroke-width="3.4"/>
<line x1="757" y1="1470" x2="769" y2="1470" stroke="#22e022" stroke-width="3.5"/>
<line x1="877.25" y1="1465.75" x2="877.25" y2="1410" stroke="#22e022" stroke-width="3.4"/>
<line x1="871.25" y1="1410" x2="883.25" y2="1410" stroke="#22e022" stroke-width="3.5"/>
<path d="M649.25,1509.5 L763,1517 L877.25,1465.75" fill="none" stroke="#2cdc2c" stroke-width="3.5" stroke-linejoin="round"/>
<circle cx="649.25" cy="1509.5" r="8.4" fill="#08fc08"/>
<circle cx="763" cy="1517" r="8.4" fill="#08fc08"/>
<circle cx="877.25" cy="1465.75" r="8.4" fill="#08fc08"/>
<line x1="649.25" y1="1460.5" x2="649.25" y2="1424.5" stroke="#1e1ee0" stroke-width="3.4"/>
<line x1="643.25" y1="1424.5" x2="655.25" y2="1424.5" stroke="#1e1ee0" stroke-width="3.5"/>
<line x1="763" y1="1420.75" x2="763" y2="1289.5" stroke="#1e1ee0" stroke-width="3.4"/>
<line x1="757" y1="1289.5" x2="769" y2="1289.5" stroke="#1e1ee0" stroke-width="3.5"/>
<line x1="877.25" y1="1340.5" x2="877.25" y2="1301.25" stroke="#1e1ee0" stroke-width="3.4"/>
<line x1="871.25" y1="1301.25" x2="883.25" y2="1301.25" stroke="#1e1ee0" stroke-width="3.5"/>
<path d="M649.25,1460.5 L763,1420.75 L877.25,1340.5" fill="none" stroke="#1c18c8" stroke-width="3.5" stroke-linejoin="round"/>
<circle cx="649.25" cy="1460.5" r="8.4" fill="#0000f6"/>
<circle cx="763" cy="1420.75" r="8.4" fill="#0000f6"/>
<circle cx="877.25" cy="1340.5" r="8.4" fill="#0000f6"/>
<line x1="649.25" y1="1502.1" x2="649.25" y2="1464" stroke="#22e022" stroke-width="3.4"/>
<line x1="643.25" y1="1464" x2="655.25" y2="1464" stroke="#22e022" stroke-width="3.5"/>
<path d="M904,1333.6 l0,-6.8 M904,1333.6 l7.4,-2.2 M904,1333.6 l4.5,5.8 M904,1333.6 l-4.6,5.7 M904,1333.6 l-7.4,-1.9" stroke="#000" stroke-width="3.0" stroke-linecap="round" fill="none"/>
<circle cx="904.00" cy="1326.80" r="2.1" fill="#000"/>
<circle cx="911.40" cy="1331.40" r="2.1" fill="#000"/>
<circle cx="908.50" cy="1339.40" r="2.1" fill="#000"/>
<circle cx="899.40" cy="1339.30" r="2.1" fill="#000"/>
<circle cx="896.60" cy="1331.70" r="2.1" fill="#000"/>
<ellipse cx="136.75" cy="54.6" rx="7" ry="6" fill="#ff0000"/>
<ellipse cx="136.75" cy="82.7" rx="7" ry="6" fill="#000"/>
<ellipse cx="136.75" cy="110.8" rx="7" ry="6" fill="#10dd60"/>
<text transform="translate(148.30,61.99) scale(1.0223,1)" font-size="21.24" fill="#000" stroke="#000" stroke-width="0.78" stroke-linejoin="round">Control</text>
<text transform="translate(150.72,88.18) scale(0.9213,1)" font-size="22.32" fill="#000" stroke="#000" stroke-width="0.80" stroke-linejoin="round">Sm</text>
<text transform="translate(152.49,114.19) scale(0.9408,1)" font-size="21.19" fill="#000" stroke="#000" stroke-width="0.80" stroke-linejoin="round">Sm+M</text>
<ellipse cx="616.1" cy="49.4" rx="7.2" ry="5.1" fill="#ff0000"/>
<ellipse cx="615.9" cy="74.6" rx="7" ry="5.7" fill="#000"/>
<ellipse cx="729.3" cy="48.5" rx="6.8" ry="6" fill="#0066ff"/>
<ellipse cx="731" cy="73.8" rx="7" ry="6.2" fill="#10dd60"/>
<text transform="translate(633.00,54.00) scale(0.9364,1)" font-size="22.09" fill="#000" stroke="#000" stroke-width="0.80" stroke-linejoin="round">HIV</text>
<text transform="translate(635.09,81.79) scale(0.9608,1)" font-size="21.75" fill="#000" stroke="#000" stroke-width="0.80" stroke-linejoin="round">HIV+Sm</text>
<text transform="translate(744.22,56.00) scale(0.9194,1)" font-size="22.24" fill="#000" stroke="#000" stroke-width="0.80" stroke-linejoin="round">HIV+M</text>
<text transform="translate(746.22,80.78) scale(0.9269,1)" font-size="22.03" fill="#000" stroke="#000" stroke-width="0.80" stroke-linejoin="round">HIV+Sm+M</text>
<text transform="translate(5.13,34.90) scale(0.9393,1)" font-size="38.37" fill="#000" stroke="#000" stroke-width="1.20" stroke-linejoin="round">A</text>
<text transform="translate(7.49,431.80) scale(0.9770,1)" font-size="37.50" fill="#000" stroke="#000" stroke-width="1.20" stroke-linejoin="round">B</text>
<text transform="translate(6.78,829.54) scale(1.0400,1)" font-size="36.44" fill="#000" stroke="#000" stroke-width="1.15" stroke-linejoin="round">C</text>
<text transform="translate(7.43,1208.40) scale(0.9622,1)" font-size="38.95" fill="#000" stroke="#000" stroke-width="1.20" stroke-linejoin="round">D</text>
<text transform="translate(506.95,29.10) scale(0.9376,1)" font-size="38.37" fill="#000" stroke="#000" stroke-width="1.20" stroke-linejoin="round">E</text>
<text transform="translate(504.78,433.40) scale(0.8890,1)" font-size="38.66" fill="#000" stroke="#000" stroke-width="1.20" stroke-linejoin="round">F</text>
<text transform="translate(500.31,824.03) scale(1.0519,1)" font-size="37.57" fill="#000" stroke="#000" stroke-width="1.14" stroke-linejoin="round">G</text>
<text transform="translate(504.72,1217.60) scale(0.9041,1)" font-size="38.81" fill="#000" stroke="#000" stroke-width="1.20" stroke-linejoin="round">H</text>
<text transform="translate(44.37,285.30) rotate(-90) scale(0.9435,1)" font-size="33.47" stroke="#000" stroke-width="0.60" stroke-linejoin="round">CD4-PD-1%</text>
<text transform="translate(44.36,676.28) rotate(-90) scale(0.8951,1)" font-size="34.75" stroke="#000" stroke-width="0.60" stroke-linejoin="round">CD8-PD-1%</text>
<text transform="translate(42.47,1098.83) rotate(-90) scale(0.9596,1)" font-size="33.36" stroke="#000" stroke-width="0.60" stroke-linejoin="round">CD8-Perforin%</text>
<text transform="translate(41.89,1521.47) rotate(-90) scale(0.9179,1)" font-size="33.78" stroke="#000" stroke-width="0.60" stroke-linejoin="round">CD8-Granzyme&#160;&#160;B%</text>
<text transform="translate(533.37,288.93) rotate(-90) scale(0.9624,1)" font-size="33.33" stroke="#000" stroke-width="0.60" stroke-linejoin="round">CD4-PD-1%</text>
<text transform="translate(533.37,686.14) rotate(-90) scale(0.9680,1)" font-size="33.33" stroke="#000" stroke-width="0.60" stroke-linejoin="round">CD8-PD-1%</text>
<text transform="translate(533.39,1097.32) rotate(-90) scale(0.9934,1)" font-size="32.14" stroke="#000" stroke-width="0.60" stroke-linejoin="round">CD8-Perforin%</text>
<text transform="translate(533.15,1529.58) rotate(-90) scale(0.9418,1)" font-size="33.01" stroke="#000" stroke-width="0.60" stroke-linejoin="round">CD8-Granzyme&#160;&#160;B%</text>
<text transform="translate(71.78,1608.60) scale(0.9703,1)" font-size="20.97" fill="#000" stroke="#000" stroke-width="0.80" stroke-linejoin="round">Smoke</text>
<text transform="translate(70.96,1634.46) scale(1.0612,1)" font-size="19.95" fill="#000" stroke="#000" stroke-width="0.75" stroke-linejoin="round">Morphine</text>
<text transform="translate(548.66,1608.30) scale(0.9231,1)" font-size="21.66" fill="#000" stroke="#000" stroke-width="0.80" stroke-linejoin="round">HIV</text>
<text transform="translate(549.39,1634.41) scale(1.0135,1)" font-size="19.88" fill="#000" stroke="#000" stroke-width="0.79" stroke-linejoin="round">Smoke</text>
<text transform="translate(548.57,1660.56) scale(1.0587,1)" font-size="19.95" fill="#000" stroke="#000" stroke-width="0.76" stroke-linejoin="round">Morphine</text>
<line x1="170.2" y1="1605" x2="393.7" y2="1605" stroke="#000" stroke-width="4.4" stroke-linecap="round"/><path d="M408.2,1605 L392.7,1597.1 L392.7,1612.9 Z" fill="#000" stroke="#000" stroke-width="0.6" stroke-linejoin="round"/>
<line x1="293.8" y1="1629.5" x2="394.1" y2="1629.5" stroke="#000" stroke-width="4.4" stroke-linecap="round"/><path d="M408.6,1629.5 L393.1,1621.6 L393.1,1637.4 Z" fill="#000" stroke="#000" stroke-width="0.6" stroke-linejoin="round"/>
<line x1="649.5" y1="1602.9" x2="873.1" y2="1602.9" stroke="#000" stroke-width="4.4" stroke-linecap="round"/><path d="M887.6,1602.9 L872.1,1595.0 L872.1,1610.8000000000002 Z" fill="#000" stroke="#000" stroke-width="0.6" stroke-linejoin="round"/>
<line x1="649.5" y1="1627.3" x2="873.1" y2="1627.3" stroke="#000" stroke-width="4.4" stroke-linecap="round"/><path d="M887.6,1627.3 L872.1,1619.3999999999999 L872.1,1635.2 Z" fill="#000" stroke="#000" stroke-width="0.6" stroke-linejoin="round"/>
<line x1="774.7" y1="1651.6" x2="873.1" y2="1651.6" stroke="#000" stroke-width="4.4" stroke-linecap="round"/><path d="M887.6,1651.6 L872.1,1643.6999999999998 L872.1,1659.5 Z" fill="#000" stroke="#000" stroke-width="0.6" stroke-linejoin="round"/>
</g>
</svg>
</body></html>
